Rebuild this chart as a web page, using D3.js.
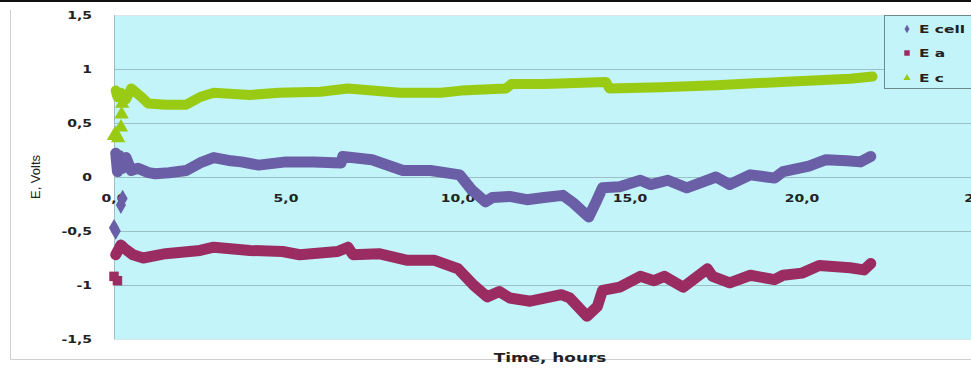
<!DOCTYPE html>
<html><head><meta charset="utf-8">
<script src="https://cdn.jsdelivr.net/npm/d3@7"></script>
<style>body{margin:0;background:#fff;}svg{display:block;}</style>
</head><body>
<script>
// ---- data (time in hours, potential in volts) ----
const seriesNames = ["E cell", "E a", "E c"];
const yTickLabels = ["-1,5", "-1", "-0,5", "0", "0,5", "1", "1,5"];
const yTickValues = [-1.5, -1, -0.5, 0, 0.5, 1, 1.5];
const xTickValues = [0, 5, 10, 15, 20, 25];
const xTickLabels = ["0,0", "5,0", "10,0", "15,0", "20,0", "25"];

const eCellT = [0.05,0.1,0.15,0.25,0.35,0.5,0.7,1.0,1.2,1.6,2.1,2.5,2.9,3.4,3.7,4.2,5.0,5.8,6.6,6.65,7.5,8.4,9.2,10.05,10.4,10.8,11.0,11.5,12.0,12.5,13.05,13.35,13.8,14.0,14.2,14.7,15.3,15.6,16.1,16.65,17.5,17.9,18.5,19.2,19.45,20.2,20.7,21.3,21.7,22.0];
const eCellV = [0.22,0.05,0.2,0.08,0.18,0.06,0.08,0.04,0.03,0.04,0.06,0.13,0.18,0.15,0.14,0.11,0.14,0.14,0.13,0.19,0.16,0.06,0.06,0.02,-0.12,-0.23,-0.19,-0.18,-0.21,-0.19,-0.17,-0.24,-0.37,-0.24,-0.1,-0.09,-0.03,-0.07,-0.03,-0.1,0.0,-0.07,0.02,-0.01,0.05,0.1,0.16,0.15,0.14,0.19];
const eCellExtraT = [0.0,0.05,0.2,0.25];
const eCellExtraV = [-0.47,-0.5,-0.26,-0.2];

const eAT = [0.05,0.2,0.3,0.55,0.85,1.5,2.5,2.9,3.95,4.9,5.4,6.5,6.8,6.95,7.7,8.5,9.3,10.0,10.45,10.85,11.2,11.5,12.1,13.0,13.25,13.75,14.05,14.2,14.7,15.3,15.7,16.0,16.55,17.25,17.4,17.9,18.5,19.2,19.45,20.0,20.5,21.4,21.8,22.0];
const eAV = [-0.72,-0.63,-0.66,-0.72,-0.75,-0.71,-0.68,-0.65,-0.68,-0.69,-0.72,-0.69,-0.65,-0.72,-0.71,-0.77,-0.77,-0.85,-1.0,-1.11,-1.06,-1.12,-1.15,-1.09,-1.12,-1.29,-1.2,-1.05,-1.02,-0.92,-0.96,-0.92,-1.02,-0.85,-0.92,-0.98,-0.91,-0.95,-0.91,-0.89,-0.82,-0.84,-0.86,-0.8];
const eAExtraT = [0.0,0.1];
const eAExtraV = [-0.92,-0.96];

const eCT = [0.05,0.1,0.2,0.35,0.5,0.8,1.0,1.5,2.1,2.5,2.9,3.95,4.8,6.0,6.8,8.3,9.5,10.1,11.4,11.55,12.5,14.3,14.4,15.9,17.5,19.4,21.4,22.05];
const eCV = [0.8,0.74,0.78,0.72,0.82,0.74,0.68,0.67,0.67,0.74,0.78,0.76,0.78,0.79,0.82,0.78,0.78,0.8,0.82,0.86,0.86,0.88,0.82,0.83,0.85,0.88,0.91,0.93];
const eCExtraT = [0.0,0.05,0.12,0.2,0.22,0.24];
const eCExtraV = [0.38,0.4,0.36,0.46,0.58,0.68];

const colors = ["#6a5ea6", "#9b2c62", "#9acb14"];

// ---- layout ----
const W = 971, H = 369;
const plot = {left: 114, top: 15, bottom: 339};

const x = d3.scaleLinear().domain([0, 25]).range([plot.left, plot.left + 25 * 34.4]);
const y = d3.scaleLinear().domain([-1.5, 1.5]).range([plot.bottom, plot.top]);

const svg = d3.select("body").append("svg").attr("width", W).attr("height", H);
const FONT = "Verdana, 'DejaVu Sans', sans-serif";

// outer frame
svg.append("rect").attr("x", 0).attr("y", 0).attr("width", W).attr("height", 2).attr("fill", "#111");
svg.append("path").attr("d", `M10.5,10 V359.5 H${W}`).attr("fill", "none").attr("stroke", "#d0d0d0");

// plot background
svg.append("rect").attr("x", plot.left).attr("y", plot.top)
  .attr("width", W - plot.left).attr("height", plot.bottom - plot.top).attr("fill", "#c2f4f9");

// gridlines
svg.append("g").selectAll("line").data(yTickValues).join("line")
  .attr("x1", plot.left).attr("x2", W)
  .attr("y1", d => Math.round(y(d)) + 0.5).attr("y2", d => Math.round(y(d)) + 0.5)
  .attr("stroke", d => (d === 1.5 || d === -1.5) ? "#d8e8ea" : "#9bbfc3").attr("stroke-width", 1);
svg.append("line").attr("x1", plot.left + 0.5).attr("x2", plot.left + 0.5)
  .attr("y1", plot.top).attr("y2", plot.bottom).attr("stroke", "#9bbfc3");

// y tick labels (stretched bold text like the reference)
svg.append("g").selectAll("text").data(yTickValues).join("text")
  .attr("transform", d => `translate(92,${y(d) + 4}) scale(1.4,1)`)
  .attr("text-anchor", "end").attr("font-family", FONT).attr("font-weight", "bold")
  .attr("font-size", 10).attr("fill", "#222").text((d, i) => yTickLabels[i]);

// x tick labels at the y=0 crossing
svg.append("g").selectAll("text").data(xTickValues).join("text")
  .attr("transform", d => `translate(${x(d)},${y(0) + 25}) scale(1.4,1)`)
  .attr("text-anchor", "middle").attr("font-family", FONT).attr("font-weight", "bold")
  .attr("font-size", 10).attr("fill", "#222").text((d, i) => xTickLabels[i]);

// series
const line = d3.line().x(d => x(d[0])).y(d => y(d[1]));
const seriesData = [
  {main: d3.zip(eCellT, eCellV), extra: d3.zip(eCellExtraT, eCellExtraV), sym: d3.symbolDiamond, w: 11},
  {main: d3.zip(eAT, eAV), extra: d3.zip(eAExtraT, eAExtraV), sym: d3.symbolSquare, w: 11},
  {main: d3.zip(eCT, eCV), extra: d3.zip(eCExtraT, eCExtraV), sym: d3.symbolTriangle, w: 10}
];
seriesData.forEach((s, i) => {
  const g = svg.append("g");
  g.append("path").attr("d", line(s.main)).attr("fill", "none")
    .attr("stroke", colors[i]).attr("stroke-width", s.w)
    .attr("stroke-linejoin", "round").attr("stroke-linecap", "round");
  g.selectAll("path.pt").data(s.extra).join("path").attr("class", "pt")
    .attr("transform", d => `translate(${x(d[0])},${y(d[1])})`)
    .attr("d", d3.symbol().type(s.sym).size(90)).attr("fill", colors[i]);
});

// axis titles
svg.append("text").attr("transform", "translate(40,177) rotate(-90)")
  .attr("text-anchor", "middle").attr("font-family", "'Liberation Sans', Arial, sans-serif")
  .attr("font-size", 13).attr("fill", "#222").text("E, Volts");
svg.append("text").attr("transform", "translate(550,362) scale(1.3,1)").attr("text-anchor", "middle")
  .attr("font-family", FONT).attr("font-weight", "bold")
  .attr("font-size", 13).attr("fill", "#222").text("Time, hours");

// legend
const lg = svg.append("g");
lg.append("rect").attr("x", 884.5).attr("y", 15.5).attr("width", 100).attr("height", 73)
  .attr("fill", "#c2f4f9").attr("stroke", "#6f8a8c");
const legY = [29, 53, 78];
const legSyms = [d3.symbolDiamond, d3.symbolSquare, d3.symbolTriangle];
seriesNames.forEach((n, i) => {
  lg.append("path").attr("transform", `translate(907,${legY[i]})`)
    .attr("d", d3.symbol().type(legSyms[i]).size(i === 1 ? 30 : 22)).attr("fill", colors[i]);
  lg.append("text").attr("transform", `translate(919,${legY[i] + 4}) scale(1.4,1)`)
    .attr("font-family", FONT).attr("font-weight", "bold")
    .attr("font-size", 11).attr("fill", "#222").text(n);
});
</script>
</body></html>
